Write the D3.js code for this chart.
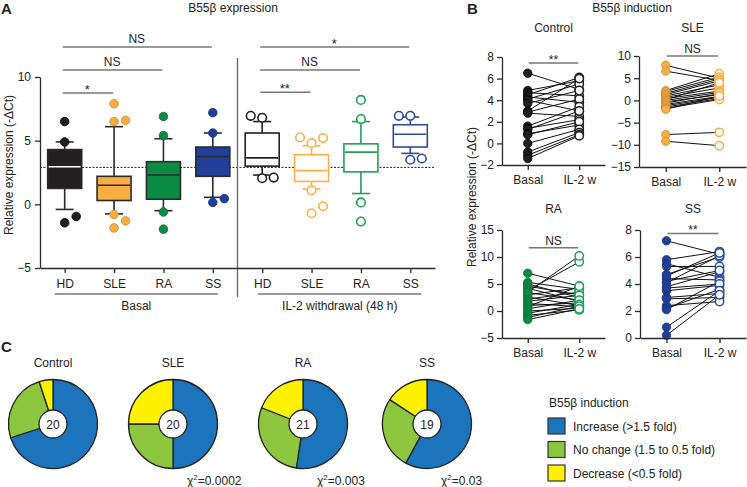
<!DOCTYPE html>
<html><head><meta charset="utf-8">
<script src="https://cdn.jsdelivr.net/npm/d3@7"></script>
<style>
body{margin:0;background:#fff;}
svg{font-family:"Liberation Sans",Arial,Helvetica,sans-serif;}
</style></head><body>
<svg id="c" width="747" height="487"></svg>
<script>
// ---------------- DATA ----------------
// Panel A: box plots
const catLabels = ['HD','SLE','RA','SS','HD','SLE','RA','SS'];
const boxQ1  = [1.25, 0.3, 0.4, 2.2, 3.0, 1.8, 2.55, 4.5];
const boxMed = [2.95, 1.5, 2.3, 3.75, 3.65, 2.65, 4.1, 5.5];
const boxQ3  = [4.3, 2.2, 3.35, 4.5, 5.6, 3.9, 4.75, 6.25];
const whiskLo = [-0.4, -0.75, -0.5, 0.55, 2.3, 1.2, 0.85, 4.0];
const whiskHi = [4.9, 6.1, 5.15, 5.6, 6.5, 4.6, 6.5, 6.85];
const outlierVals = [
  [6.5, 4.9, -1.45, -0.95],
  [7.9, 6.5, 6.6, -0.8, -1.85, -1.3],
  [6.9, 5.4, -0.6, -1.95],
  [7.2, 5.6, 0.15, 0.45],
  [6.95, 6.8, 2.05, 2.1],
  [5.25, 4.8, 5.2, 1.1, -0.7, -0.15],
  [8.2, 6.7, 0.15, -1.35],
  [6.95, 6.95, 3.5, 3.6]
];
const outlierSlot = [
  [0,0,0,1],[0,0,1,0,0,1],[0,0,0,0],[0,0,0,1],
  [-1,0,0,1],[-1,0,1,0,0,1],[0,0,0,0],[-1,0,0,1]
];
const refLine = 2.9;
const aTicks = [-5,0,5,10];
const groupLabels = ['Basal','IL-2 withdrawal (48 h)'];
const sigA = [
  {a:0,b:3,v:12.36,t:'NS'},{a:0,b:2,v:10.55,t:'NS'},{a:0,b:1,v:8.75,t:'*'},
  {a:4,b:7,v:12.36,t:'*'},{a:4,b:6,v:10.55,t:'NS'},{a:4,b:5,v:8.8,t:'**'}
];

// Panel B: paired points
const pairLabels = ['Basal','IL-2 w'];
const ctrlBasal = [6.5,4.9,4.7,4.5,4.3,4.1,4.0,3.7,3.0,2.9,2.8,1.6,1.4,1.3,0.9,0.8,0.0,-0.8,-1.1,-1.4];
const ctrlIL2   = [5.0,5.8,4.4,6.1,3.8,5.5,3.0,4.9,6.0,4.1,2.5,3.4,2.2,3.0,1.7,2.0,1.3,1.0,0.8,0.7];
const sleBasal = [7.9,6.6,2.2,2.0,1.6,1.3,1.0,0.7,0.4,0.1,0.0,-0.3,-0.6,-0.9,-1.2,-1.5,-1.8,-2.0,-7.7,-9.2];
const sleIL2   = [5.0,4.5,6.0,5.2,4.8,4.4,3.5,2.8,2.1,4.0,1.8,1.3,1.5,0.9,0.7,0.4,0.2,1.0,-7.2,-10.2];
const raBasal = [7.0,5.3,5.0,4.6,4.2,3.8,3.4,3.0,2.6,2.2,1.8,1.4,1.0,0.8,0.4,0.0,-0.4,-0.8,-1.2,-1.6,3.5];
const raIL2   = [4.6,4.0,2.5,3.0,1.8,9.1,2.0,4.3,1.0,3.5,2.9,0.8,1.5,4.6,2.0,0.5,1.2,0.2,0.9,0.4,10.2];
const ssBasal = [7.2,5.8,5.5,5.3,4.7,4.4,4.1,3.8,3.5,3.0,2.9,2.4,2.2,2.1,4.2,3.7,0.8,0.2,4.6];
const ssIL2   = [6.2,6.4,4.5,5.3,6.0,4.3,6.1,4.9,3.9,3.3,3.0,2.7,3.6,4.2,5.0,4.0,3.5,3.2,6.3];
const ctrlTicks = [-2,0,2,4,6,8], sleTicks = [-15,-10,-5,0,5,10], raTicks = [-5,0,5,10,15], ssTicks = [0,2,4,6,8];

// Panel C: pies
const pieNames = ['Control','SLE','RA','SS'];
const pieIncrease = [14,10,11,11];
const pieNoChange = [5,5,6,5];
const pieDecrease = [1,5,4,3];
const pieChi = [null,'0.0002','0.003','0.03'];
const legendLabels = ['Increase (>1.5 fold)','No change (1.5 to 0.5 fold)','Decrease (<0.5 fold)'];

// ---------------- STYLE ----------------
const fillCol = ['#231f20','#f9ae42','#0b8a44','#213f98'];
const openCol = ['#231f20','#f9b044','#21a05a','#2d4ba0'];
const pieCol = ['#1c75bc','#8dc63f','#fff200'];
const dark = '#2a2a2a';

const svg = d3.select('#c');
function styleAxis(g){
  g.selectAll('path.domain').attr('stroke',dark).attr('stroke-width',1.3);
  g.selectAll('.tick line').attr('stroke',dark).attr('stroke-width',1.3);
  g.selectAll('.tick text').attr('fill','#222').style('font-size','12px').style('font-family','"Liberation Sans",Arial,sans-serif');
}
function txt(x,y,s,opts={}){
  return svg.append('text').attr('x',x).attr('y',y).attr('text-anchor',opts.anchor||'middle')
    .style('font-size',(opts.size||12)+'px').style('font-weight',opts.bold?'bold':'normal').attr('fill','#222').text(s);
}

// ---------------- PANEL A ----------------
txt(1,14,'A',{anchor:'start',size:15,bold:true});
txt(233,12,'B55β expression');
const yA = d3.scaleLinear().domain([-5,10]).range([268,77]);
const xA = d3.scalePoint().domain(d3.range(8)).range([40,435]).padding(0.5);
const gA = svg.append('g');
// dotted reference
gA.append('line').attr('x1',40).attr('x2',435).attr('y1',yA(refLine)).attr('y2',yA(refLine))
  .attr('stroke','#222').attr('stroke-width',1).attr('stroke-dasharray','2,1.5');
// separator
const sepX = (xA(3)+xA(4))/2;
gA.append('line').attr('x1',sepX).attr('x2',sepX).attr('y1',58).attr('y2',297).attr('stroke','#666').attr('stroke-width',1.3);

const bw = 34, cap = 9;
d3.range(8).forEach(i=>{
  const cx = xA(i), basal = i<4, col = basal?fillCol[i%4]:openCol[i%4];
  const st = basal?dark:col;
  const g = gA.append('g');
  // whiskers
  g.append('line').attr('x1',cx).attr('x2',cx).attr('y1',yA(whiskHi[i])).attr('y2',yA(boxQ3[i])).attr('stroke',st).attr('stroke-width',1.6);
  g.append('line').attr('x1',cx).attr('x2',cx).attr('y1',yA(boxQ1[i])).attr('y2',yA(whiskLo[i])).attr('stroke',st).attr('stroke-width',1.6);
  [whiskHi[i],whiskLo[i]].forEach(v=>g.append('line').attr('x1',cx-cap).attr('x2',cx+cap).attr('y1',yA(v)).attr('y2',yA(v)).attr('stroke',st).attr('stroke-width',1.6));
  g.append('rect').attr('x',cx-bw/2).attr('width',bw).attr('y',yA(boxQ3[i])).attr('height',yA(boxQ1[i])-yA(boxQ3[i]))
    .attr('fill',basal?col:'#fff').attr('stroke',st).attr('stroke-width',1.6);
  g.append('line').attr('x1',cx-bw/2+1).attr('x2',cx+bw/2-1).attr('y1',yA(boxMed[i])).attr('y2',yA(boxMed[i]))
    .attr('stroke',i===0?'#fff':st).attr('stroke-width',1.6);
  outlierVals[i].forEach((v,j)=>{
    g.append('circle').attr('cx',cx+outlierSlot[i][j]*11.5).attr('cy',yA(v)).attr('r',4.3)
      .attr('fill',basal?col:'#fff').attr('stroke',basal?(i===0?'#000':d3.color(col).darker(0.6)):col).attr('stroke-width',basal?0.8:1.6);
  });
});
const yAxA = svg.append('g').attr('transform','translate(40,0)')
  .call(d3.axisLeft(yA).tickValues(aTicks).tickSize(5).tickSizeOuter(0).tickPadding(4));
styleAxis(yAxA);
const xAxA = svg.append('g').attr('transform','translate(0,268)')
  .call(d3.axisBottom(xA).tickFormat(i=>catLabels[i]).tickSize(5).tickSizeOuter(0).tickPadding(6));
styleAxis(xAxA);
svg.append('text').attr('transform','translate(13,165) rotate(-90)').attr('text-anchor','middle')
  .style('font-size','12px').attr('fill','#222').text('Relative expression (-ΔCt)');
// group brackets
[[0,3,-10,5],[4,7,-4,11]].forEach((d,k)=>{
  const x1 = xA(d[0])+d[2], x2 = xA(d[1])+d[3];
  svg.append('line').attr('x1',x1).attr('x2',x2).attr('y1',294).attr('y2',294).attr('stroke','#777').attr('stroke-width',1.5);
  txt((x1+x2)/2,310,groupLabels[k]);
});
// significance
sigA.forEach(s=>{
  const y = yA(s.v);
  svg.append('line').attr('x1',xA(s.a)-2).attr('x2',xA(s.b)-1).attr('y1',y).attr('y2',y).attr('stroke','#777').attr('stroke-width',1.5);
  txt((xA(s.a)+xA(s.b))/2-2, s.t==='NS'? y-4 : y+1, s.t, {size: s.t==='NS'?12:13});
});

// ---------------- PANEL B ----------------
txt(467,14,'B',{anchor:'start',size:15,bold:true});
txt(632,12,'B55β induction');
svg.append('text').attr('transform','translate(476,197) rotate(-90)').attr('text-anchor','middle')
  .style('font-size','12px').attr('fill','#222').text('Relative expression (-ΔCt)');

function pairPlot(cfg){
  const x = d3.scalePoint().domain(pairLabels).range(cfg.xr).padding(0.5);
  const y = d3.scaleLinear().domain(cfg.dom).range(cfg.yr);
  const g = svg.append('g');
  const xb = x('Basal'), xi = x('IL-2 w');
  txt((xb+xi)/2, cfg.titleY, cfg.title);
  cfg.basal.forEach((b,k)=>{
    g.append('line').attr('x1',xb).attr('x2',xi).attr('y1',y(b)).attr('y2',y(cfg.il2[k])).attr('stroke','#111').attr('stroke-width',1);
  });
  cfg.basal.forEach(b=>g.append('circle').attr('cx',xb).attr('cy',y(b)).attr('r',4.2)
    .attr('fill',fillCol[cfg.c]).attr('stroke',cfg.c===0?'#000':d3.color(fillCol[cfg.c]).darker(0.6)).attr('stroke-width',0.8));
  cfg.il2.forEach(v=>g.append('circle').attr('cx',xi).attr('cy',y(v)).attr('r',4.2)
    .attr('fill','#fff').attr('stroke',openCol[cfg.c]).attr('stroke-width',1.5));
  const ya = svg.append('g').attr('transform',`translate(${cfg.xr[0]},0)`)
    .call(d3.axisLeft(y).tickValues(cfg.ticks).tickSize(5).tickSizeOuter(0).tickPadding(3));
  styleAxis(ya);
  const xa = svg.append('g').attr('transform',`translate(0,${cfg.yr[0]})`)
    .call(d3.axisBottom(x).tickSize(5).tickSizeOuter(0).tickPadding(5));
  styleAxis(xa);
  const sy = y(cfg.sig);
  svg.append('line').attr('x1',xb+1).attr('x2',xi-1).attr('y1',sy).attr('y2',sy).attr('stroke','#777').attr('stroke-width',1.5);
  txt((xb+xi)/2, cfg.sigT==='NS'? sy-3 : sy+1, cfg.sigT, {size: cfg.sigT==='NS'?12:12});
}
pairPlot({title:'Control',c:0,basal:ctrlBasal,il2:ctrlIL2,dom:[-2,8],ticks:ctrlTicks,xr:[502,605],yr:[165,57],titleY:32,sig:7.45,sigT:'**'});
pairPlot({title:'SLE',c:1,basal:sleBasal,il2:sleIL2,dom:[-15,10],ticks:sleTicks,xr:[639,746],yr:[167,56],titleY:32,sig:10,sigT:'NS'});
pairPlot({title:'RA',c:2,basal:raBasal,il2:raIL2,dom:[-5,15],ticks:raTicks,xr:[502,605],yr:[338,230],titleY:213,sig:11.7,sigT:'NS'});
pairPlot({title:'SS',c:3,basal:ssBasal,il2:ssIL2,dom:[0,8],ticks:ssTicks,xr:[640,746],yr:[338,230],titleY:213,sig:7.75,sigT:'**'});

// ---------------- PANEL C ----------------
txt(1,352,'C',{anchor:'start',size:15,bold:true});
const pieCX = [53,173,303,427], pieCY = 424, R = 44.5, r0 = 14;
const pie = d3.pie().sort(null);
const arc = d3.arc().innerRadius(0).outerRadius(R);
pieNames.forEach((n,i)=>{
  const g = svg.append('g').attr('transform',`translate(${pieCX[i]},${pieCY})`);
  const vals = [pieIncrease[i],pieNoChange[i],pieDecrease[i]];
  g.selectAll('path').data(pie(vals)).join('path').attr('d',arc)
    .attr('fill',(d,k)=>pieCol[k]).attr('stroke','#222').attr('stroke-width',1.3).attr('stroke-linejoin','round');
  g.append('circle').attr('r',r0).attr('fill','#fff').attr('stroke','#222').attr('stroke-width',1.3);
  g.append('text').attr('text-anchor','middle').attr('y',4.5).style('font-size','12px').attr('fill','#222').text(d3.sum(vals));
  txt(pieCX[i],367,n);
  if(pieChi[i]){
    const t = svg.append('text').attr('x',pieCX[i]+14).attr('y',485).style('font-size','12px').attr('fill','#222');
    t.append('tspan').text('χ');
    t.append('tspan').attr('dy',-5).style('font-size','8px').text('2');
    t.append('tspan').attr('dy',5).text('='+pieChi[i]);
  }
});
// legend
txt(549,407,'B55β induction',{anchor:'start'});
legendLabels.forEach((l,k)=>{
  const cy = 426 + k*23.5;
  svg.append('rect').attr('x',548).attr('y',cy-8).attr('width',17).attr('height',16)
    .attr('fill',pieCol[k]).attr('stroke','#333').attr('stroke-width',1.2);
  txt(573,cy+4.5,l,{anchor:'start'});
});
</script>
</body></html>
